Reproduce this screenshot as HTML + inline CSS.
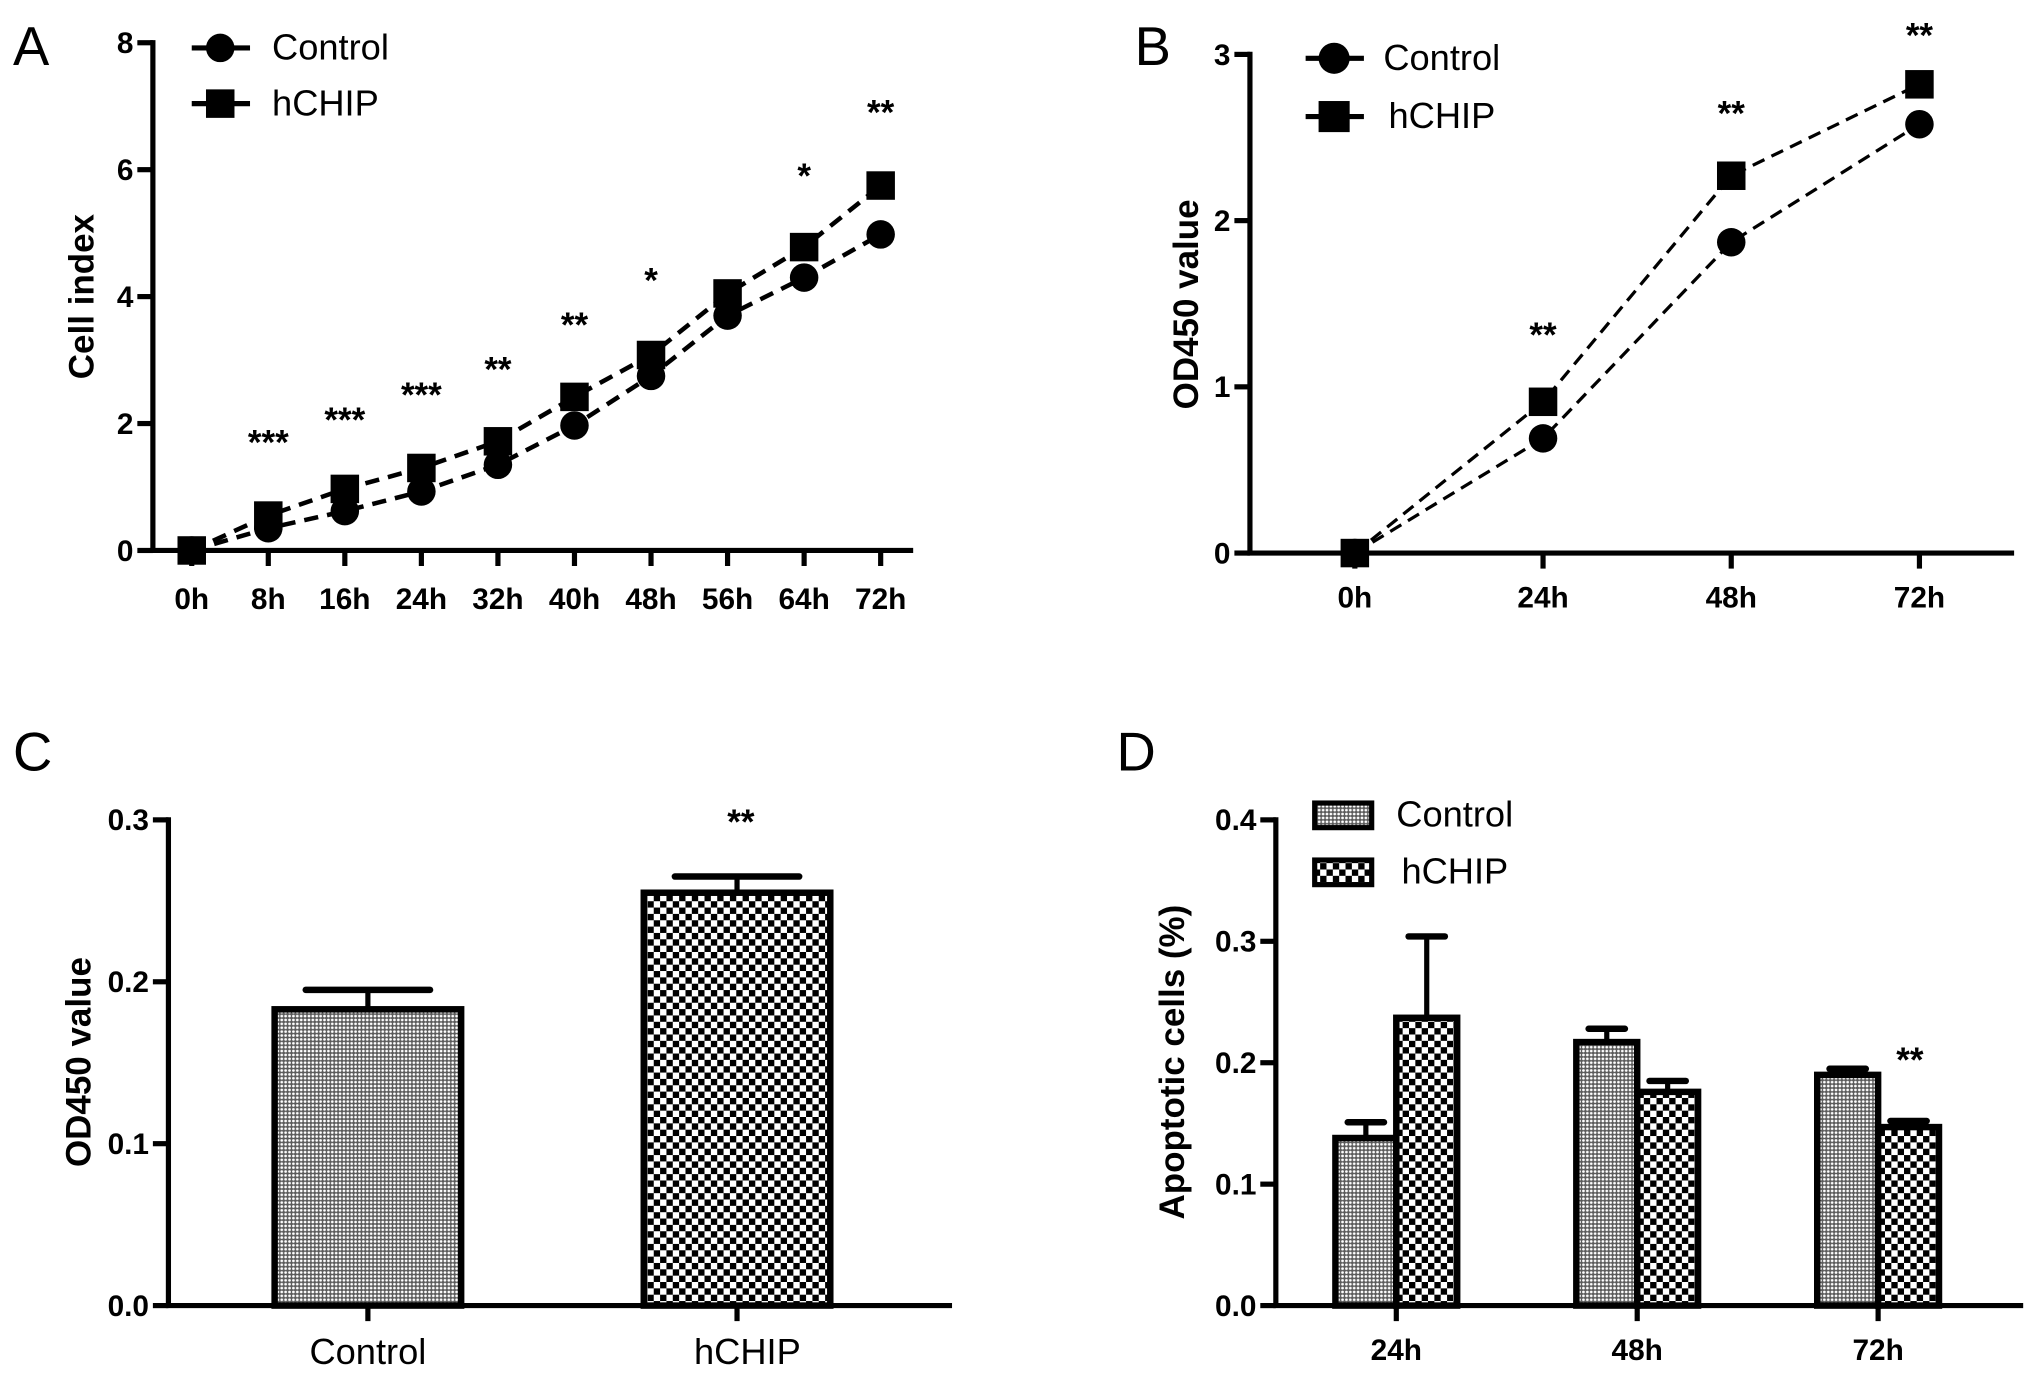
<!DOCTYPE html>
<html><head><meta charset="utf-8">
<style>
html,body{margin:0;padding:0;background:#fff;}
svg{display:block;font-family:"Liberation Sans",Arial,sans-serif;}
.tick{font-weight:bold;font-size:23px;}
.leg{font-size:28px;}
.ttl{font-weight:bold;font-size:27px;}
.plab{font-size:42px;}
.star{font-size:27px;font-weight:bold;}
</style></head>
<body>
<svg id="fig" width="2031" height="1382" viewBox="0 0 1568 1067" xmlns="http://www.w3.org/2000/svg">
<defs>
<pattern id="pCtrl" width="3" height="3" patternUnits="userSpaceOnUse">
<rect width="3" height="3" fill="#5a5a5a"/><circle cx="1.5" cy="1.5" r="1.05" fill="#fff"/>
</pattern>
<pattern id="pH" width="9.8" height="9.8" patternUnits="userSpaceOnUse">
<rect width="9.8" height="9.8" fill="#fff"/><rect width="4.9" height="4.9" fill="#000"/><rect x="4.9" y="4.9" width="4.9" height="4.9" fill="#000"/>
</pattern>
</defs>
<g id="gA"></g>
<g id="gB"></g>
<g id="gC"></g>
<g id="gD"></g>
</svg>
<script>
// Panel A data
const aCats = ["0h","8h","16h","24h","32h","40h","48h","56h","64h","72h"];
const aControl = [0,0.35,0.62,0.93,1.35,1.97,2.75,3.7,4.3,4.98];
const aHchip = [0,0.55,0.97,1.3,1.72,2.42,3.08,4.05,4.78,5.75];
const aStars = ["","***","***","***","**","**","*","","*","**"];
const aStarVals = [0,1.8,2.15,2.55,2.95,3.65,4.35,0,6.0,7.0];
const aTicks = [0,2,4,6,8];
// Panel B data
const bCats = ["0h","24h","48h","72h"];
const bControl = [0,0.69,1.87,2.58];
const bHchip = [0,0.91,2.27,2.82];
const bStars = ["","**","**","**"];
const bStarVals = [0,1.35,2.68,3.15];
const bTicks = [0,1,2,3];
// Panel C data
const cCats = ["Control","hCHIP"];
const cVals = [0.183,0.255];
const cErr = [0.012,0.010];
const cTicks = ["0.0","0.1","0.2","0.3"];
// Panel D data
const dCats = ["24h","48h","72h"];
const dControl = [0.138,0.217,0.19];
const dControlErr = [0.013,0.011,0.005];
const dHchip = [0.237,0.176,0.147];
const dHchipErr = [0.067,0.009,0.005];
const dTicks = ["0.0","0.1","0.2","0.3","0.4"];
const dStars = ["","","**"];

const NS="http://www.w3.org/2000/svg";
function mk(parent,tag,attrs,text){const e=document.createElementNS(NS,tag);for(const k in attrs)e.setAttribute(k,attrs[k]);if(text!==undefined)e.textContent=text;parent.appendChild(e);return e;}

function axes(g,x0,y0,x1,yTop,yTicks,yFn){
  const ya=mk(g,'line',{x1:x0,y1:yTop-2,x2:x0,y2:y0,stroke:'#000','stroke-width':4});
  
  const xa=mk(g,'line',{x1:x0-2,y1:y0,x2:x1,y2:y0,stroke:'#000','stroke-width':4});
  
  yTicks.forEach(v=>{const y=yFn(parseFloat(v));
    mk(g,'line',{x1:x0-12,y1:y,x2:x0,y2:y,stroke:'#000','stroke-width':4});
    const t=mk(g,'text',{x:x0-15,y:y+8,'text-anchor':'end',class:'tick'},v);
    });
}
function text(g,x,y,s,cls,name,anchor,rot){const a={x:x,y:y,class:cls,'text-anchor':anchor||'middle'};if(rot)a.transform=`rotate(-90 ${x} ${y})`;const t=mk(g,'text',a,s);return t;}

// ---------- Panel A ----------
(function(){
 const g=document.getElementById('gA');
 const x0=118,y0=425,yTop=33;
 const y=v=>y0-(v/8)*(y0-yTop);
 const x=i=>148+i*59.1;
 axes(g,x0,y0,705,yTop,aTicks,y);
 aCats.forEach((c,i)=>{mk(g,'line',{x1:x(i),y1:y0,x2:x(i),y2:y0+12,stroke:'#000','stroke-width':4});
  text(g,x(i),y0+45,c,'tick','x-tick-label');});
 text(g,10,50,'A','plab','panel-label-a','start');
 text(g,72,229,'Cell index','ttl','y-axis-title','middle',true);
 const lc=mk(g,'polyline',{points:aControl.map((v,i)=>x(i)+','+y(v)).join(' '),fill:'none',stroke:'#000','stroke-width':3.5,'stroke-dasharray':'11 7'});
 
 const lh=mk(g,'polyline',{points:aHchip.map((v,i)=>x(i)+','+y(v)).join(' '),fill:'none',stroke:'#000','stroke-width':3.5,'stroke-dasharray':'11 7'});
 
 aControl.forEach((v,i)=>{const p=mk(g,'circle',{cx:x(i),cy:y(v),r:11,fill:'#000'});});
 aHchip.forEach((v,i)=>{const p=mk(g,'rect',{x:x(i)-11,y:y(v)-11,width:22,height:22,fill:'#000'});});
 aStars.forEach((s,i)=>{if(s)text(g,x(i),y(aStarVals[i])+14,s,'star','significance-marker');});
 mk(g,'line',{x1:148,y1:37,x2:193,y2:37,stroke:'#000','stroke-width':4});
 const l1=mk(g,'circle',{cx:170,cy:37,r:11,fill:'#000'});
 text(g,210,46,'Control','leg','legend-control','start');
 mk(g,'line',{x1:148,y1:80,x2:193,y2:80,stroke:'#000','stroke-width':4});
 const l2=mk(g,'rect',{x:159,y:69,width:22,height:22,fill:'#000'});
 text(g,210,89,'hCHIP','leg','legend-hchip','start');
})();

// ---------- Panel B ----------
(function(){
 const g=document.getElementById('gB');
 const x0=965,y0=427,yTop=42;
 const y=v=>y0-(v/3)*(y0-yTop);
 const x=i=>1046+i*145.3;
 axes(g,x0,y0,1555,yTop,bTicks,y);
 bCats.forEach((c,i)=>{mk(g,'line',{x1:x(i),y1:y0,x2:x(i),y2:y0+12,stroke:'#000','stroke-width':4});
  text(g,x(i),y0+42,c,'tick','x-tick-label');});
 text(g,876,50,'B','plab','panel-label-b','start');
 text(g,925,235,'OD450 value','ttl','y-axis-title','middle',true);
 const lc=mk(g,'polyline',{points:bControl.map((v,i)=>x(i)+','+y(v)).join(' '),fill:'none',stroke:'#000','stroke-width':2.5,'stroke-dasharray':'10 6'});
 
 const lh=mk(g,'polyline',{points:bHchip.map((v,i)=>x(i)+','+y(v)).join(' '),fill:'none',stroke:'#000','stroke-width':2.5,'stroke-dasharray':'10 6'});
 
 bControl.forEach((v,i)=>{const p=mk(g,'circle',{cx:x(i),cy:y(v),r:11,fill:'#000'});});
 bHchip.forEach((v,i)=>{const p=mk(g,'rect',{x:x(i)-11,y:y(v)-11,width:22,height:22,fill:'#000'});});
 bStars.forEach((s,i)=>{if(s)text(g,x(i),y(bStarVals[i])+14,s,'star','significance-marker');});
 mk(g,'line',{x1:1008,y1:45,x2:1053,y2:45,stroke:'#000','stroke-width':4});
 const l1=mk(g,'circle',{cx:1030,cy:45,r:12,fill:'#000'});
 text(g,1068,54,'Control','leg','legend-control','start');
 mk(g,'line',{x1:1008,y1:90,x2:1053,y2:90,stroke:'#000','stroke-width':4});
 const l2=mk(g,'rect',{x:1018,y:78,width:24,height:24,fill:'#000'});
 text(g,1072,99,'hCHIP','leg','legend-hchip','start');
})();

// ---------- Panel C ----------
(function(){
 const g=document.getElementById('gC');
 const x0=130,y0=1008,yTop=633;
 const y=v=>y0-(v/0.3)*(y0-yTop);
 const cx=[284,569],bw=144;
 axes(g,x0,y0,735,yTop,cTicks,y);
 text(g,10,595,'C','plab','panel-label-c','start');
 text(g,70,820,'OD450 value','ttl','y-axis-title','middle',true);
 const fills=['url(#pCtrl)','url(#pH)'];
 cVals.forEach((v,i)=>{
  const e=mk(g,'line',{x1:cx[i],y1:y(v),x2:cx[i],y2:y(v+cErr[i]),stroke:'#000','stroke-width':4});
  
  mk(g,'line',{x1:cx[i]-48,y1:y(v+cErr[i]),x2:cx[i]+48,y2:y(v+cErr[i]),stroke:'#000','stroke-width':5,'stroke-linecap':'round'});
  const b=mk(g,'rect',{x:cx[i]-bw/2,y:y(v),width:bw,height:y0-y(v),fill:fills[i],stroke:'#000','stroke-width':5});
  
  mk(g,'line',{x1:cx[i],y1:y0,x2:cx[i],y2:y0+12,stroke:'#000','stroke-width':4});
  text(g,cx[i]+(i?8:0),y0+45,cCats[i],'leg','x-tick-label');
 });
 text(g,572,644,'**','star','significance-marker');
})();

// ---------- Panel D ----------
(function(){
 const g=document.getElementById('gD');
 const x0=985,y0=1008,yTop=633;
 const y=v=>y0-(v/0.4)*(y0-yTop);
 const gx=i=>1078+i*186,bw=47;
 axes(g,x0,y0,1562,yTop,dTicks,y);
 text(g,862,595,'D','plab','panel-label-d','start');
 text(g,914,820,'Apoptotic cells (%)','ttl','y-axis-title','middle',true);
 function bar(xc,v,err,fill,name){
  mk(g,'line',{x1:xc,y1:y(v),x2:xc,y2:y(v+err),stroke:'#000','stroke-width':4});
  mk(g,'line',{x1:xc-14,y1:y(v+err),x2:xc+14,y2:y(v+err),stroke:'#000','stroke-width':5,'stroke-linecap':'round'});
  const b=mk(g,'rect',{x:xc-bw/2,y:y(v),width:bw,height:y0-y(v),fill:fill,stroke:'#000','stroke-width':5});
  
 }
 dCats.forEach((c,i)=>{
  bar(gx(i)-bw/2,dControl[i],dControlErr[i],'url(#pCtrl)','bar-control-'+c);
  bar(gx(i)+bw/2,dHchip[i],dHchipErr[i],'url(#pH)','bar-hchip-'+c);
  mk(g,'line',{x1:gx(i),y1:y0,x2:gx(i),y2:y0+12,stroke:'#000','stroke-width':4});
  text(g,gx(i),y0+42,c,'tick','x-tick-label');
  if(dStars[i])text(g,gx(i)+bw/2+1,y(dHchip[i]+dHchipErr[i])-38,dStars[i],'star','significance-marker');
 });
 const r1=mk(g,'rect',{x:1015,y:620,width:44,height:19,fill:'url(#pCtrl)',stroke:'#000','stroke-width':4});
 
 text(g,1078,638,'Control','leg','legend-control','start');
 const r2=mk(g,'rect',{x:1015,y:664,width:44,height:19,fill:'url(#pH)',stroke:'#000','stroke-width':4});
 
 text(g,1082,682,'hCHIP','leg','legend-hchip','start');
})();
</script>
</body></html>
